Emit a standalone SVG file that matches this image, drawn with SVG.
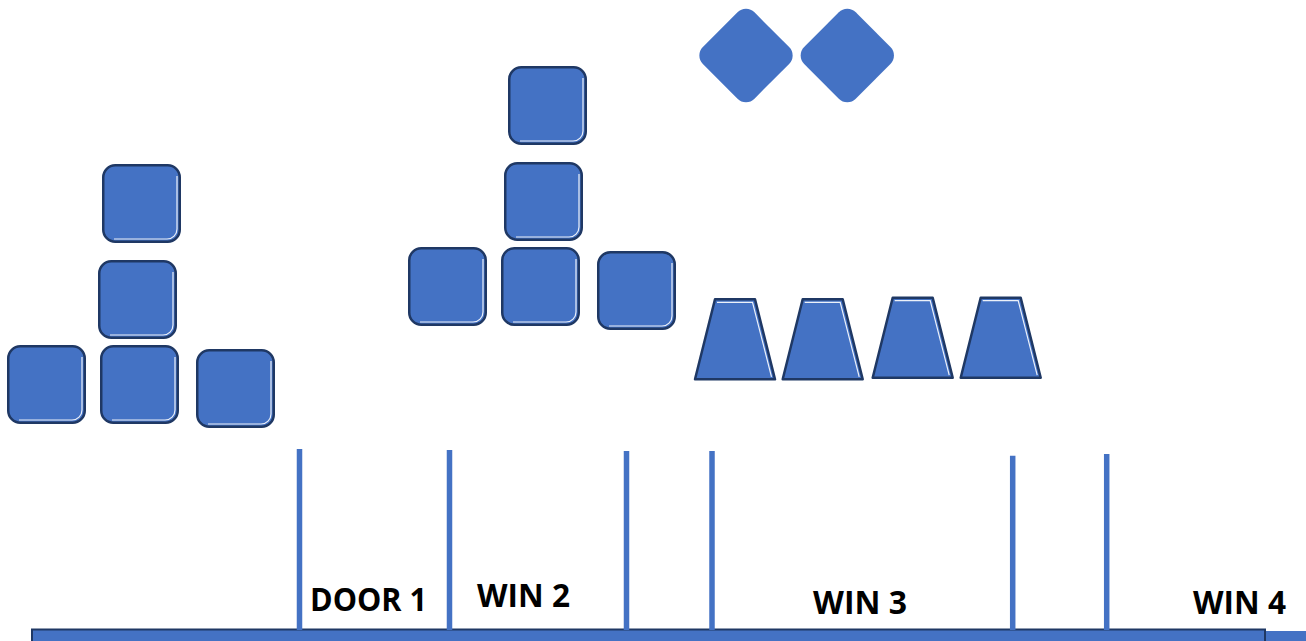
<svg xmlns="http://www.w3.org/2000/svg" width="1306" height="641" viewBox="0 0 1306 641">
<style>
.fill{fill:#4472c4}
.edge{stroke:#1f3864;stroke-width:2.5;stroke-linejoin:round}
.hi{fill:none;stroke:#ffffff;stroke-width:1.2;opacity:0.9}
.div{stroke:#4472c4;stroke-width:5.5}
.lbl{font-family:"Open Sans","Liberation Sans",sans-serif;font-weight:bold;font-size:32px;fill:#000}
</style>
<defs>
<g id="sq">
<rect class="fill edge" x="1.25" y="1.25" width="76.5" height="76.5" rx="12"/>
<path class="hi" d="M75 12 V65 A10 10 0 0 1 65 75 H12"/>
</g>
<g id="trap">
<path class="fill edge" d="M20 0 H60 L80 80 H0 Z"/>
<path class="hi" d="M22 3 H57.5 L76.5 77.5"/>
</g>
<rect id="dia" class="fill" x="-36.5" y="-36.5" width="73" height="73" rx="12" transform="rotate(45)"/>
</defs>

<g id="floor">
<rect x="1265" y="631" width="41" height="12" fill="#4472c4"/>
<rect class="fill" x="32" y="629.5" width="1233" height="14" stroke="#1f3864" stroke-width="2"/>
</g>

<g id="dividers">
<line class="div" x1="299.5" y1="449" x2="299.5" y2="630"/>
<line class="div" x1="449.5" y1="450" x2="449.5" y2="630"/>
<line class="div" x1="626.5" y1="451" x2="626.5" y2="630"/>
<line class="div" x1="712" y1="451" x2="712" y2="630"/>
<line class="div" x1="1012.7" y1="455.7" x2="1012.7" y2="630"/>
<line class="div" x1="1106.7" y1="454" x2="1106.7" y2="630"/>
</g>

<g id="labels">
<text id="door1" class="lbl" x="310" y="611" textLength="117" lengthAdjust="spacingAndGlyphs">DOOR 1</text>
<text id="win2" class="lbl" x="477" y="607" textLength="93" lengthAdjust="spacingAndGlyphs">WIN 2</text>
<text id="win3" class="lbl" x="813" y="614.3" textLength="94" lengthAdjust="spacingAndGlyphs">WIN 3</text>
<text id="win4" class="lbl" x="1193" y="614.3" textLength="93" lengthAdjust="spacingAndGlyphs">WIN 4</text>
</g>

<g id="left-stack">
<use id="l1" href="#sq" x="102" y="164"/>
<use id="l2" href="#sq" x="98" y="260"/>
<use id="l3" href="#sq" x="7" y="345"/>
<use id="l4" href="#sq" x="100" y="345"/>
<use id="l5" href="#sq" x="196" y="349"/>
</g>

<g id="mid-stack">
<use id="m1" href="#sq" x="508" y="66"/>
<use id="m2" href="#sq" x="504" y="162"/>
<use id="m3" href="#sq" x="408" y="247"/>
<use id="m4" href="#sq" x="501" y="247"/>
<use id="m5" href="#sq" x="597" y="251"/>
</g>

<g id="diamonds">
<use id="d1" href="#dia" transform="translate(746 55.5)"/>
<use id="d2" href="#dia" transform="translate(847.3 55.5)"/>
</g>

<g id="trapezoids">
<use id="t1" href="#trap" x="695" y="299.3"/>
<use id="t2" href="#trap" x="782.7" y="299.3"/>
<use id="t3" href="#trap" x="872.7" y="297.7"/>
<use id="t4" href="#trap" x="960.7" y="297.7"/>
</g>
</svg>
